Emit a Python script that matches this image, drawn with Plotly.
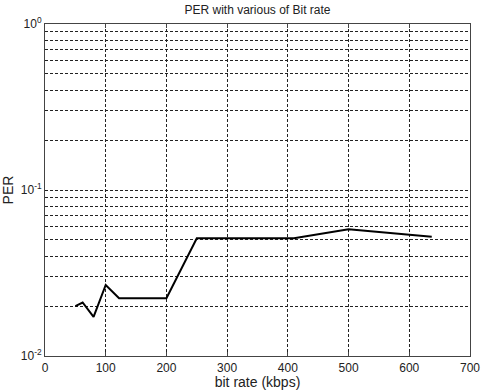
import plotly.graph_objects as go

bit_rate = [50, 62, 80, 100, 122, 200, 250, 410, 500, 600, 637]
per = [0.0200, 0.0210, 0.0172, 0.0268, 0.0223, 0.0223, 0.0512, 0.0512, 0.0580, 0.0535, 0.0523]

x_ticks = [0, 100, 200, 300, 400, 500, 600, 700]
y_decades = [0.01, 0.1, 1]
y_decade_labels = ["10<sup>-2</sup>", "10<sup>-1</sup>", "10<sup>0</sup>"]

y_grid = []
for d in [0.01, 0.1]:
    for m in range(1, 10):
        y_grid.append(round(d * m, 4))
y_grid.append(1)
y_text = [y_decade_labels[y_decades.index(v)] if v in y_decades else "" for v in y_grid]

font = "Liberation Sans, Arial, sans-serif"

fig = go.Figure()
fig.add_trace(go.Scatter(x=bit_rate, y=per, mode="lines",
                         line=dict(color="black", width=2), showlegend=False))

fig.update_layout(
    width=482, height=390,
    margin=dict(l=45, r=12, t=24, b=34, autoexpand=False),
    paper_bgcolor="white", plot_bgcolor="white",
    font=dict(family=font, size=12, color="#222"),
    title=dict(text="PER with various of Bit rate", x=(45 + 470) / 2 / 482, xanchor="center",
               y=1 - 10 / 390, yref="container", yanchor="middle",
               font=dict(size=12, family=font, color="#222")),
    xaxis=dict(range=[0, 700], tickvals=x_ticks, ticktext=[str(v) for v in x_ticks],
               showgrid=True, gridcolor="#222", griddash="3px,2px", gridwidth=1,
               showline=True, linecolor="#444", linewidth=1, mirror="ticks",
               ticks="inside", ticklen=4, tickcolor="#444", zeroline=False,
               automargin=False, ticklabelstandoff=1,
               title=dict(text="bit rate (kbps)", standoff=5)),
    yaxis=dict(type="log", range=[-2, 0], tickvals=y_grid, ticktext=y_text,
               showgrid=True, gridcolor="#222", griddash="3px,2px", gridwidth=1,
               showline=True, linecolor="#444", linewidth=1, mirror=True,
               ticks="", zeroline=False, automargin=False,
               title=dict(text="PER", standoff=6)),
)

fig.write_html("out.html")
